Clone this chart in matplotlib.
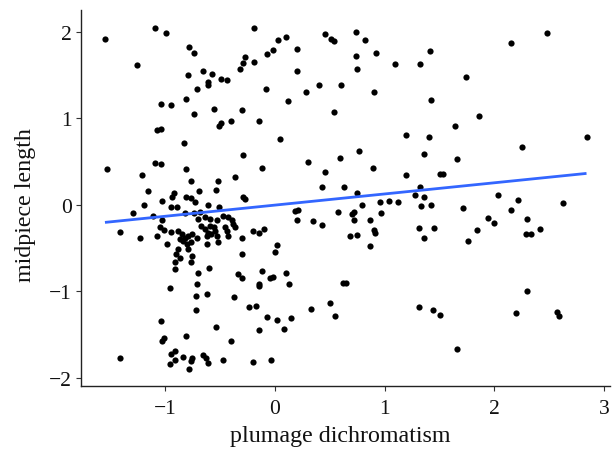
import matplotlib
matplotlib.use("Agg")
import matplotlib.pyplot as plt
import numpy as np

# plumage dichromatism (x) and midpiece length (y)
dichromatism = [
    -1.55, -1.09, -0.99, -0.19, -0.78, -0.74, -1.26, -0.27, -0.29, -0.19,
    -0.32, -0.66, -0.57, -0.79, -0.61, -0.61, -0.49, -0.44, -0.71, -0.81,
    -1.04, -0.95, -0.74, -0.56, -0.30, -0.15, -0.40, -0.49, -0.51, -1.04,
    -1.08, -0.83, -0.29, -1.09, -1.04, -1.53, -0.81, -1.21, -0.12, -0.36,
    -0.77, -0.52, -1.16, -0.92, -0.94, -0.69, -0.54, -1.03, -0.81, -0.77,
    -0.29, -0.27,
    -1.19, -1.29, -0.95, -0.89, -1.11, -1.41, -1.23, -1.08, -1.03, -1.05,
    -1.01, -0.95, -0.98, -0.60, -0.70, -0.30, -0.34, -0.30, -0.12, -0.15,
    -0.15, -0.96, -0.71, -0.72, -0.62, -0.37, -0.72, -0.24, -0.17, -1.04,
    -0.54, -0.15, -1.01, -1.03, -0.81, -0.40, -1.41, -0.91, -0.95, -0.91,
    -0.96, -0.84, -0.76, -0.77, -0.66, -0.63, -0.61, -0.47, -0.20, -0.78,
    -0.88, -0.85, -0.82, -0.79, -0.76, -0.87, -0.84, -0.80, -0.77, -0.71,
    -0.67, -0.64, -0.59, -0.56, -0.62, -0.61, -0.58, -0.55, -0.53, -0.52,
    -0.62, -0.46, -0.44, -0.43, -0.88, -0.90, -0.87, -0.91, -0.76, -0.77,
    -0.79, -0.91, -0.30,
    -0.73, -0.61, -0.51, -0.82, -0.74, -0.68, -0.70, -0.64, -0.59, -0.53,
    -0.47, -0.43, -0.39, -0.38, -0.36, -0.20, -0.15, -0.10,
    0.03, 0.10, 0.46, 0.51, 0.54, 0.74, 0.82, -0.07, -0.02, 0.20,
    0.74, 0.92, 1.41, 1.09, 1.32, 0.20, 0.75, -0.08, 0.12, 0.28,
    0.40, 0.60, 0.90, 1.42, 0.54, 0.05, 1.19, 1.40, 0.77, 1.36,
    0.59, 0.30, 0.89, 0.46, 1.19, 0.43, 0.63, 0.75, 1.32, 1.28,
    1.36,
    0.96, 1.04, 1.12, 0.79, 1.33, 1.42, 0.18, 0.21, 0.20, 0.35,
    0.43, 0.57, 0.70, 0.72, 0.72, 0.87, 0.97, 0.90, 0.91, 0.68,
    0.75, 0.87, 1.31, 1.36, 1.45, 0.02, 0.00, -0.05, -0.02, 0.10,
    0.13, 0.62, 0.65, -0.07, 0.02, 0.15, 0.08, 0.33, 0.50, 0.55,
    1.31, 1.44, -0.04,
    2.15, 2.48, 1.74, 1.86, 1.64, 2.84, 2.25, 1.66, 1.50, 1.53,
    2.03, 2.22, 2.63,
    1.71, 2.15, 1.94, 2.00, 2.30, 1.84, 1.76, 2.29, 2.33, 2.42,
    2.30, 1.50, 2.20, 2.57, 2.59, 1.66,
]
midpiece = [
    1.92, 2.05, 1.99, 2.04, 1.82, 1.75, 1.62, 1.71, 1.64, 1.65,
    1.57, 1.55, 1.51, 1.50, 1.42, 1.38, 1.45, 1.44, 1.34, 1.22,
    1.17, 1.15, 1.05, 1.11, 1.10, 0.97, 0.97, 0.95, 0.91, 0.88,
    0.86, 0.72, 0.58, 0.48, 0.47, 0.41, 0.41, 0.35, 0.43, 0.32,
    0.27, 0.28, 0.16, 0.14, 0.09, 0.16, 0.17, 0.05, 0.09, 0.08,
    0.09, 0.07,
    0.00, -0.09, -0.03, -0.03, -0.13, -0.31, -0.38, -0.36, -0.18, -0.26,
    -0.29, -0.31, -0.45, -0.73, -0.79, -0.57, -0.80, -0.84, -0.77, -0.92,
    -0.94, -0.96, -0.91, -1.05, -1.03, -1.07, -1.21, -1.18, -1.17, -1.34,
    -1.41, -1.45, -1.54, -1.57, -1.52, -1.57, -1.77, -1.69, -1.72, -1.79,
    -1.84, -1.76, -1.77, -1.81, -1.74, -1.77, -1.83, -1.79, -1.82, -1.90,
    -0.30, -0.34, -0.38, -0.36, -0.34, -0.40, -0.42, -0.45, -0.43, -0.38,
    -0.24, -0.28, -0.24, -0.26, -0.36, -0.32, -0.34, -0.30, -0.36, -0.43,
    -0.45, -0.26, -0.30, -0.36, -0.51, -0.57, -0.61, -0.66, -0.59, -0.66,
    -0.51, -0.74, -0.38,
    0.03, 0.00, -0.02, -0.09, -0.09, -0.08, -0.16, -0.14, -0.16, -0.18,
    -0.13, -0.14, -0.18, -0.22, -0.26, -0.30, -0.32, -0.28,
    1.91, 1.94, 1.97, 1.92, 1.89, 2.00, 1.91, 1.74, 1.79, 1.80,
    1.72, 1.76, 1.78, 1.63, 1.63, 1.55, 1.57, 1.34, 1.20, 1.30,
    1.38, 1.39, 1.30, 1.21, 1.07, 0.76, 0.81, 0.78, 0.62, 0.59,
    0.54, 0.49, 0.43, 0.38, 0.34, 0.21, 0.21, 0.14, 0.21, 0.11,
    0.09,
    0.03, 0.05, 0.03, 0.00, -0.01, 0.00, -0.07, -0.06, -0.17, -0.19,
    -0.23, -0.08, -0.11, -0.08, -0.18, -0.17, -0.09, -0.29, -0.32, -0.36,
    -0.35, -0.48, -0.27, -0.38, -0.27, -0.46, -0.54, -0.85, -0.83, -0.79,
    -0.91, -0.90, -0.90, -1.30, -1.33, -1.31, -1.43, -1.20, -1.13, -1.29,
    -1.18, -1.21, -1.79,
    1.87, 1.99, 1.48, 1.03, 0.91, 0.79, 0.67, 0.53, 0.36, 0.36,
    0.11, 0.06, 0.02,
    -0.04, -0.06, -0.15, -0.21, -0.16, -0.29, -0.42, -0.34, -0.34, -0.28,
    -1.00, -1.27, -1.25, -1.24, -1.29, -1.67,
]

# fitted linear trend (intercept, slope)
fit_intercept = -0.003
fit_slope = 0.129

x_ticks = [-1, 0, 1, 2, 3]
y_ticks = [-2, -1, 0, 1, 2]
x_label = "plumage dichromatism"
y_label = "midpiece length"

plt.rcParams['font.family'] = ['Liberation Serif', 'DejaVu Serif']
plt.rcParams['axes.unicode_minus'] = True

fig = plt.figure(figsize=(6.12, 4.52), dpi=100)
ax = fig.add_axes([0.1328, 0.1427, 0.8639, 0.8325])

x = np.array(dichromatism)
y = np.array(midpiece)
ax.scatter(x, y, s=20, color='black', linewidths=0, zorder=2)

xl = np.array([x.min(), x.max()])
ax.plot(xl, fit_intercept + fit_slope * xl, color='#3366FF', lw=2.0,
        solid_capstyle='butt', zorder=3)

ax.set_xlim(-1.766, 3.054)
ax.set_ylim(-2.10, 2.25)
ax.set_xticks(x_ticks)
ax.set_yticks(y_ticks)
ax.set_xticklabels([f"{v}".replace('-', '\u2212') for v in x_ticks])
ax.set_yticklabels([f"{v}".replace('-', '\u2212') for v in y_ticks])

for side in ['top', 'right']:
    ax.spines[side].set_visible(False)
for side in ['left', 'bottom']:
    ax.spines[side].set_color('#222222')
    ax.spines[side].set_linewidth(1.0)

ax.tick_params(axis='both', direction='out', length=3.5, width=0.8,
               color='#333333', labelsize=15.5, labelcolor='#111111')
ax.tick_params(axis='x', pad=5.5)
ax.tick_params(axis='y', pad=3.5)

ax.set_xlabel(x_label, fontsize=17.3, color='#111111')
ax.set_ylabel(y_label, fontsize=17.3, color='#111111')
ax.xaxis.set_label_coords(0.489, -0.103)
ax.yaxis.set_label_coords(-0.086, 0.485)

fig.savefig("out.png", dpi=100, facecolor='white')
